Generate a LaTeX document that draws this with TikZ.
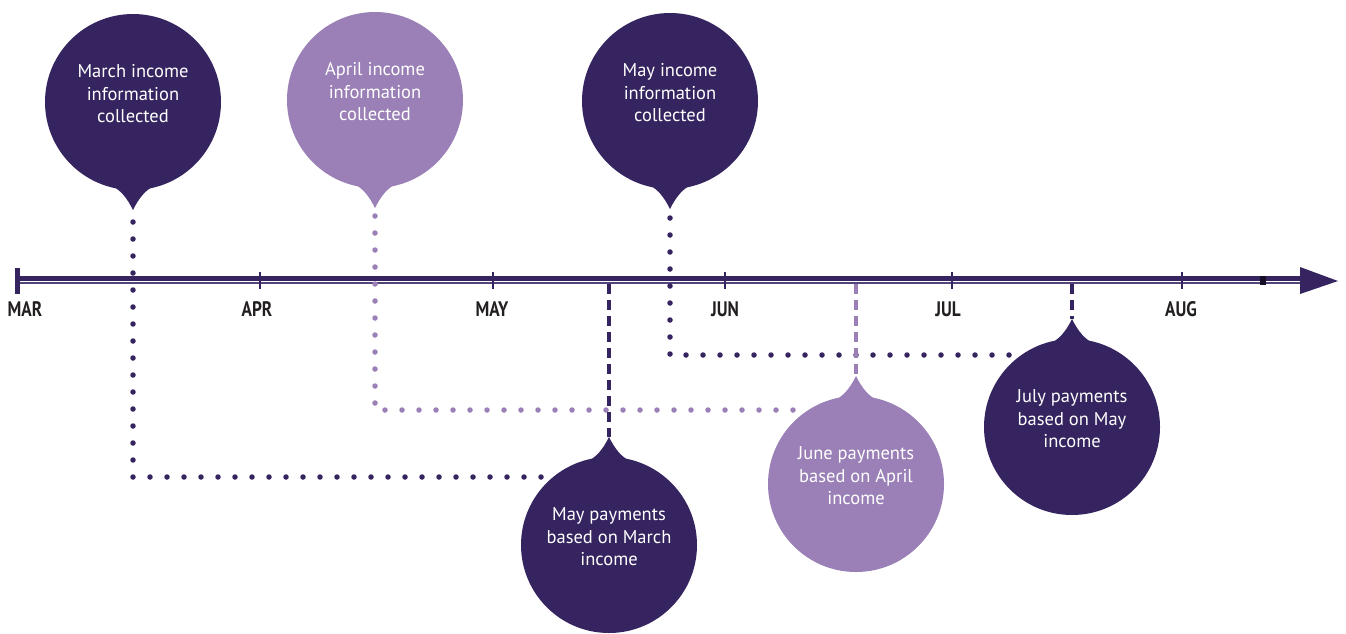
\documentclass[tikz,border=0pt]{standalone}
\usepackage{fontspec}
\setmainfont{PT Sans}
\newfontfamily\monthfont[FakeStretch=0.82]{PT Sans}
\usetikzlibrary{calc}

\definecolor{darkplum}{HTML}{35245F}
\definecolor{lightplum}{HTML}{9A80B6}
\definecolor{monthgrey}{HTML}{231F20}

\tikzset{
    bubble/.style={circle,minimum size=176pt,inner sep=0pt,fill=#1},
    bubbletext/.style={text=white,align=center,font=\fontsize{18.5}{22.5}\selectfont},
    monthlabel/.style={font=\monthfont\bfseries\fontsize{21}{21}\selectfont,text=monthgrey},
    dotline/.style={draw=#1,line width=5.5pt,line cap=round,dash pattern=on 0pt off 17pt},
    dashline/.style={draw=#1,line width=4pt,dash pattern=on 10pt off 6pt},
}

\begin{document}
\begin{tikzpicture}[x=1pt,y=-1pt]
    \useasboundingbox (0,0) rectangle (1346,633);

    % time axis
    \draw[darkplum,line width=4.5pt](20,278.5)--(1302,278.5);
    \draw[darkplum!85,line width=2pt](20,283.3)--(1302,283.3);
    \fill[darkplum](1300,267)--(1338,281)--(1300,294)--cycle;
    \draw[darkplum,line width=5pt](17.5,268)--(17.5,294);
    \fill[black!60!darkplum](1260,276)rectangle(1266,285);
    \coordinate (axislow) at (0,284);

    \foreach \x in {260,493,725,952,1182}{
        \draw[darkplum,line width=1.5pt](\x,272)--(\x,289);
    }
    \foreach \x/\m in {25/MAR,257/APR,492/MAY,725/JUN,948/JUL,1181/AUG}{
        \node[monthlabel] (m-\m) at (\x,309) {\m};
    }

    % bubbles
    \foreach \name/\cx/\cy/\col/\dir/\txt in {
        marinfo/133/102/darkplum/1/{March income\\information\\collected},
        aprinfo/375/100/lightplum/1/{April income\\information\\collected},
        mayinfo/670/101/darkplum/1/{May income\\information\\collected},
        maypay/609/545/darkplum/-1/{May payments\\based on March\\income},
        junpay/856/484/lightplum/-1/{June payments\\based on April\\income},
        julpay/1072/427/darkplum/-1/{July payments\\based on May\\income}}{
        \node[bubble=\col] (\name) at (\cx,\cy) {};
        \begin{scope}[shift={(\cx,\cy)},yscale=\dir]
            \fill[\col](-24,82) .. controls (-12,88) and (-6,96) .. (0,108)
                .. controls (6,96) and (12,88) .. (24,82)--cycle;
            \coordinate (\name-tip) at (0,108);
        \end{scope}
        \node[bubbletext] (\name-text) at (\cx,\cy-8) {\txt};
    }

    % income collected -> payments
    \coordinate (marcorner) at (133,477);
    \coordinate (marend) at (558,477);
    \coordinate (aprcorner) at (375,410);
    \coordinate (aprend) at (809,410);
    \coordinate (maycorner) at (670,355);
    \coordinate (mayend) at (1010,355);
    \draw[dotline=darkplum]([yshift=-12pt]marinfo-tip)--(marcorner)--(marend);
    \draw[dotline=lightplum]([yshift=-8pt]aprinfo-tip)--(aprcorner)--(aprend);
    \draw[dotline=darkplum]([yshift=-9pt]mayinfo-tip)--(maycorner)--(mayend);

    % payment dates
    \draw[dashline=darkplum](maypay-tip |- axislow)--(maypay-tip);
    \draw[dashline=lightplum](junpay-tip |- axislow)--(junpay-tip);
    \draw[dashline=darkplum](julpay-tip |- axislow)--(julpay-tip);
\end{tikzpicture}
\end{document}
